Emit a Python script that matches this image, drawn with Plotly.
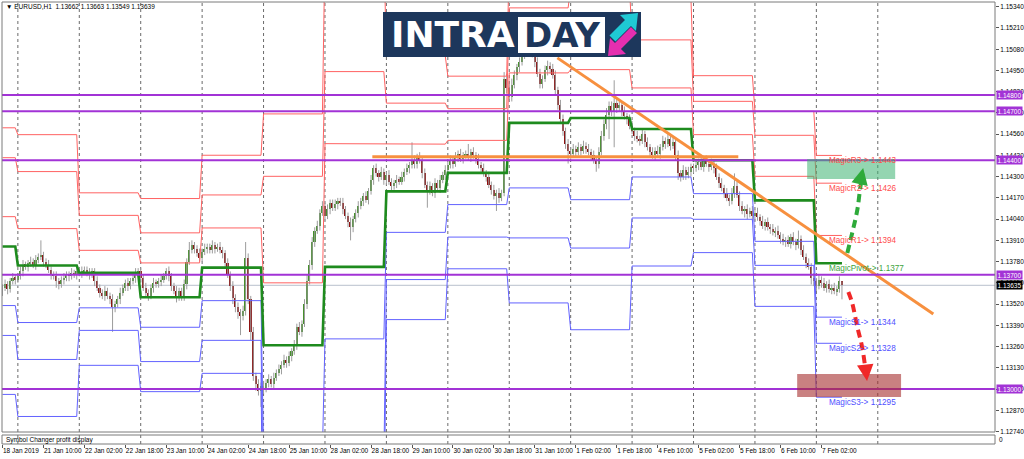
import plotly.graph_objects as go

# ---------------- canvas geometry ----------------
W, H = 1024, 459
ML, MR, MT, MB = 2, 29, 2, 15
PW, PH = W - ML - MR, H - MT - MB          # 993 x 442
MAIN_BOTTOM_PX, SUB_TOP_PX = 432, 435


def px(x):
    return (x - ML) / PW


def py(y):
    return (H - MB - y) / PH


# ---------------- data ----------------
PIP = 0.0001
FIRST_OPEN = 1.1360

# hourly closes, 18 Jan 18:00 ... 7 Feb 10:00
CLOSE = [
    1.1362, 1.1364, 1.1361, 1.1366, 1.1368, 1.1367,
    1.1369, 1.1372, 1.1376, 1.1375, 1.1377, 1.1378, 1.1376, 1.1379, 1.1381, 1.1382, 1.1378, 1.1376,
    1.1373, 1.1370, 1.1369, 1.1366, 1.1364, 1.1367, 1.1368, 1.1370, 1.1369, 1.1371, 1.1370, 1.1372,
    1.1371, 1.1372, 1.1373, 1.1371, 1.1370, 1.1372, 1.1366, 1.1362, 1.1359, 1.1357, 1.1360, 1.1357,
    1.1355, 1.1350, 1.1352, 1.1355, 1.1359, 1.1362, 1.1365, 1.1363, 1.1366, 1.1368, 1.1371, 1.1372,
    1.1368, 1.1362, 1.1359, 1.1357, 1.1362, 1.1365, 1.1364, 1.1366, 1.1367, 1.1369, 1.1372, 1.1369,
    1.1363, 1.1360, 1.1357, 1.1360, 1.1356, 1.1364, 1.1378, 1.1385, 1.1388, 1.1386, 1.1383, 1.1380,
    1.1384, 1.1386, 1.1387, 1.1385, 1.1388, 1.1386, 1.1387, 1.1385, 1.1383, 1.1377, 1.1370, 1.1363,
    1.1356, 1.1350, 1.1347, 1.1345, 1.1348, 1.1380, 1.1355, 1.1335, 1.1308, 1.1303, 1.1299, 1.1302,
    1.1300, 1.1304, 1.1306, 1.1303, 1.1307, 1.1310, 1.1312, 1.1315, 1.1318, 1.1316, 1.1320, 1.1323,
    1.1327, 1.1338, 1.1335, 1.1340, 1.1352, 1.1366, 1.1376, 1.1390, 1.1397, 1.1400, 1.1408, 1.1412,
    1.1406, 1.1410, 1.1414, 1.1411, 1.1413, 1.1415, 1.1414, 1.1410, 1.1406, 1.1402, 1.1399, 1.1404,
    1.1408, 1.1412, 1.1415, 1.1418, 1.1416, 1.1421, 1.1428, 1.1435, 1.1432, 1.1430, 1.1433, 1.1428,
    1.1431, 1.1427, 1.1424, 1.1426, 1.1428, 1.1427, 1.1430, 1.1433, 1.1435, 1.1437, 1.1440, 1.1438,
    1.1442, 1.1440, 1.1432, 1.1425, 1.1422, 1.1424, 1.1420, 1.1426, 1.1423, 1.1428, 1.1431, 1.1434,
    1.1437, 1.1440, 1.1438, 1.1442, 1.1444, 1.1441, 1.1443, 1.1444, 1.1442, 1.1445, 1.1443, 1.1441,
    1.1437, 1.1435, 1.1432, 1.1430, 1.1425, 1.1422, 1.1418, 1.1420, 1.1417, 1.1420, 1.1490, 1.1484,
    1.1479, 1.1486, 1.1492, 1.1497, 1.1500, 1.1505, 1.1509, 1.1512, 1.1508, 1.1506, 1.1500, 1.1493,
    1.1487, 1.1490, 1.1495, 1.1498, 1.1496, 1.1492, 1.1483, 1.1474, 1.1465, 1.1458, 1.1450, 1.1446,
    1.1444, 1.1447, 1.1445, 1.1448, 1.1446, 1.1449, 1.1447, 1.1445, 1.1443, 1.1440, 1.1438, 1.1445,
    1.1455, 1.1462, 1.1468, 1.1473, 1.1470, 1.1475, 1.1472, 1.1474, 1.1470, 1.1467, 1.1465, 1.1461,
    1.1458, 1.1455, 1.1453, 1.1452, 1.1456, 1.1451, 1.1448, 1.1445, 1.1443, 1.1446, 1.1444, 1.1448,
    1.1452, 1.1450, 1.1453, 1.1449, 1.1451, 1.1443, 1.1432, 1.1430, 1.1434, 1.1431, 1.1433, 1.1436,
    1.1435, 1.1437, 1.1439, 1.1436, 1.1440, 1.1438, 1.1436, 1.1438, 1.1435, 1.1430, 1.1426, 1.1423,
    1.1420, 1.1417, 1.1415, 1.1420, 1.1424, 1.1419, 1.1412, 1.1409, 1.1410, 1.1407, 1.1409, 1.1406,
    1.1408, 1.1405, 1.1403, 1.1400, 1.1402, 1.1399, 1.1398, 1.1396, 1.1397, 1.1394, 1.1392, 1.1390,
    1.1391, 1.1389, 1.1393, 1.1390, 1.1388, 1.1392, 1.1385, 1.1381, 1.1377, 1.1375, 1.1368, 1.1366,
    1.1363, 1.1367, 1.1365, 1.1362, 1.1364, 1.1361, 1.1362, 1.1360, 1.1361, 1.1366, 1.13639,
]

# upper / lower wick lengths in pips
UP_WICK = [
    2, 3, 2, 2, 3, 2,
    2, 3, 3, 2, 2, 3, 2, 3, 2, 9, 2, 2, 3, 2, 2, 3, 2, 2, 3, 2, 2, 3, 2, 2,
    2, 3, 2, 2, 3, 2, 2, 3, 2, 2, 3, 2, 2, 3, 2, 2, 3, 2, 2, 3, 2, 2, 3, 2,
    2, 2, 3, 2, 2, 3, 2, 2, 3, 2, 2, 3, 2, 2, 3, 2, 2, 3, 2, 5, 3, 2, 2, 3,
    2, 3, 2, 2, 3, 2, 2, 3, 2, 2, 3, 2, 3, 2, 3, 2, 3, 10, 3, 2, 3, 2, 3, 2,
    3, 2, 3, 2, 3, 2, 3, 2, 3, 2, 3, 2, 3, 2, 3, 2, 3, 4, 3, 3, 2, 3, 2, 3,
    2, 3, 2, 2, 3, 2, 2, 3, 2, 2, 3, 2, 2, 3, 2, 2, 3, 2, 3, 2, 3, 2, 3, 2,
    2, 3, 2, 2, 3, 2, 3, 2, 3, 2, 11, 3, 2, 3, 2, 3, 2, 3, 2, 3, 2, 3, 2, 3,
    2, 3, 2, 3, 2, 3, 2, 2, 6, 2, 3, 2, 3, 2, 3, 2, 3, 2, 3, 2, 3, 2, 4, 3,
    3, 4, 3, 2, 3, 3, 2, 4, 3, 3, 2, 3, 3, 2, 3, 3, 2, 3, 3, 2, 3, 3, 2, 3,
    2, 3, 2, 3, 2, 3, 2, 3, 2, 3, 2, 3, 3, 3, 4, 3, 3, 14, 3, 3, 2, 3, 2, 3,
    3, 2, 3, 2, 3, 2, 3, 2, 3, 2, 3, 2, 3, 2, 3, 2, 3, 2, 3, 2, 3, 2, 3, 2,
    2, 3, 2, 3, 2, 3, 2, 3, 2, 3, 2, 3, 2, 3, 2, 3, 8, 3, 2, 3, 2, 3, 2, 3,
    2, 3, 2, 3, 2, 3, 2, 3, 2, 3, 2, 3, 2, 3, 2, 3, 2, 5, 2, 3, 2, 3, 2, 3,
    2, 3, 2, 3, 2, 3, 2, 3, 2, 3, 0,
]
DN_WICK = [
    3, 2, 3, 2, 2, 3,
    2, 2, 3, 2, 3, 2, 2, 3, 2, 2, 3, 2, 2, 3, 2, 4, 3, 2, 3, 2, 3, 2, 2, 3,
    2, 3, 2, 2, 3, 2, 3, 2, 3, 2, 3, 2, 3, 15, 3, 2, 3, 2, 2, 3, 2, 2, 3, 2,
    3, 2, 2, 3, 2, 3, 2, 2, 3, 2, 2, 3, 3, 2, 4, 3, 2, 2, 3, 2, 2, 3, 2, 2,
    2, 2, 3, 2, 2, 3, 2, 2, 3, 3, 2, 3, 4, 3, 4, 12, 3, 3, 3, 5, 3, 4, 3, 10,
    3, 2, 3, 2, 3, 2, 2, 3, 2, 3, 2, 3, 2, 3, 2, 3, 2, 3, 2, 3, 3, 2, 3, 2,
    3, 2, 3, 2, 2, 3, 2, 3, 2, 3, 8, 3, 2, 3, 2, 3, 2, 3, 2, 3, 2, 3, 2, 3,
    3, 2, 3, 2, 3, 2, 2, 3, 2, 3, 2, 3, 3, 2, 3, 2, 11, 3, 2, 3, 2, 3, 2, 3,
    3, 2, 3, 2, 3, 2, 3, 2, 2, 3, 2, 3, 2, 3, 2, 3, 2, 3, 2, 9, 3, 2, 2, 3,
    3, 3, 2, 3, 3, 2, 3, 3, 2, 3, 3, 2, 3, 3, 2, 3, 3, 2, 3, 3, 2, 3, 3, 8,
    3, 2, 3, 2, 3, 2, 3, 2, 3, 2, 5, 3, 2, 3, 3, 15, 3, 22, 3, 2, 3, 2, 3, 2,
    2, 3, 2, 3, 2, 3, 2, 3, 2, 3, 2, 3, 2, 3, 2, 3, 2, 3, 4, 3, 2, 3, 2, 3,
    3, 2, 3, 2, 3, 2, 3, 2, 3, 2, 3, 2, 3, 2, 3, 2, 3, 2, 3, 2, 4, 3, 2, 3,
    3, 2, 3, 2, 3, 2, 3, 2, 3, 2, 3, 2, 3, 2, 3, 2, 3, 2, 3, 2, 3, 2, 4, 3,
    3, 2, 3, 2, 3, 2, 3, 2, 3, 2, 9,
]

# daily "Magic" pivot levels (first bar index of each day)
DAY_START = [0, 6, 30, 54, 78, 102, 126, 150, 174, 198, 222, 246, 270, 294, 318]
PIV_R3 = [1.14599, 1.14557, 1.14201, 1.14166, 1.14431, 1.14684, 1.15697, 1.15039, 1.14915, 1.15639, 1.15751, 1.15388, 1.14918, 1.14700, 1.1443]
PIV_R2 = [1.14416, 1.14331, 1.14063, 1.13956, 1.14188, 1.14302, 1.14943, 1.14750, 1.14716, 1.15333, 1.15455, 1.15137, 1.14761, 1.14553, 1.1426]
PIV_R1 = [1.14055, 1.13982, 1.13849, 1.13772, 1.13986, 1.13650, 1.14502, 1.14499, 1.14522, 1.14935, 1.14955, 1.14843, 1.14557, 1.14302, 1.1394]
PIV_P = [1.13872, 1.13756, 1.13711, 1.13562, 1.13743, 1.13268, 1.13748, 1.14210, 1.14323, 1.14629, 1.14659, 1.14592, 1.14400, 1.14155, 1.1377]
PIV_S1 = [1.13511, 1.13407, 1.13497, 1.13378, 1.13541, 1.12616, 1.13307, 1.13959, 1.14129, 1.14231, 1.14159, 1.14298, 1.14196, 1.13904, 1.1344]
PIV_S2 = [1.13328, 1.13181, 1.13359, 1.13168, 1.13298, 1.12234, 1.12553, 1.13670, 1.13930, 1.13925, 1.13863, 1.14047, 1.14039, 1.13757, 1.1328]
PIV_S3 = [1.12967, 1.12832, 1.13145, 1.12984, 1.13096, 1.11582, 1.12112, 1.13425, 1.13736, 1.13527, 1.13363, 1.13753, 1.13835, 1.13506, 1.1295]
PIV_NAMES = ["MagicR3", "MagicR2", "MagicR1", "MagicPivot", "MagicS1", "MagicS2", "MagicS3"]

SEPARATORS = [6, 30, 54, 78, 102, 126, 150, 174, 198, 222, 246, 270, 294, 318, 342]

TIME_LABELS = ["18 Jan 2019", "21 Jan 10:00", "22 Jan 02:00", "22 Jan 18:00", "23 Jan 10:00",
               "24 Jan 02:00", "24 Jan 18:00", "25 Jan 10:00", "28 Jan 02:00", "28 Jan 18:00",
               "29 Jan 10:00", "30 Jan 02:00", "30 Jan 18:00", "31 Jan 10:00", "1 Feb 02:00",
               "1 Feb 18:00", "4 Feb 10:00", "5 Feb 02:00", "5 Feb 18:00", "6 Feb 10:00",
               "7 Feb 02:00"]
BARS_PER_LABEL = 16

Y_TICKS = [1.12740, 1.12870, 1.13000, 1.13130, 1.13260, 1.13390, 1.13520, 1.13650, 1.13780,
           1.13910, 1.14040, 1.14170, 1.14300, 1.14430, 1.14560, 1.14690, 1.14820, 1.14950,
           1.15080, 1.15210, 1.15340]
Y_RANGE = [1.12737, 1.15369]
X_RANGE = [-0.2, 387.8]

H_LEVELS = [1.14800, 1.14700, 1.14400, 1.13700, 1.13000]
BID = 1.13635
OHLC_TITLE = "\u25BC EURUSD,H1  1.13662 1.13663 1.13549 1.13639"

TREND_DIAG_X = [216.8, 363.7]
TREND_DIAG_Y = [1.15027, 1.13459]
TREND_FLAT_X = [144.5, 287.5]
TREND_FLAT_Y = [1.14422, 1.14422]

UP_ZONE_X = [314.4, 348.8]
UP_ZONE_Y = [1.14286, 1.14408]
DN_ZONE_X = [310.5, 351.1]
DN_ZONE_Y = [1.12951, 1.13092]

UP_PATH_X = [330.1, 332.0, 334.0, 335.2, 336.1]
UP_PATH_Y = [1.13833, 1.13955, 1.14096, 1.14237, 1.14320]
DN_PATH_X = [330.5, 332.0, 334.0, 335.9, 337.1, 337.8]
DN_PATH_Y = [1.13594, 1.13527, 1.13380, 1.13257, 1.13135, 1.13080]
UP_TIP = (336.3, 1.14353)
DN_TIP = (337.8, 1.13049)

# ---------------- colours ----------------
C_BULL, C_BEAR, C_WICK = "#46902C", "#8E1111", "#9C9C9C"
C_RES, C_PIV, C_SUP = "#FF6262", "#1E8B1E", "#6262FF"
C_PURPLE = "#A233D6"
C_ORANGE = "#F7903F"
C_NAVY = "#1D375C"
FONT = "Liberation Sans, Arial, sans-serif"

# ---------------- build ----------------
n = min(len(CLOSE), len(UP_WICK), len(DN_WICK))
idx = list(range(n))
opens = [FIRST_OPEN] + CLOSE[:n - 1]
closes = CLOSE[:n]
highs = [max(o, c) + u * PIP for o, c, u in zip(opens, closes, UP_WICK)]
lows = [min(o, c) - d * PIP for o, c, d in zip(opens, closes, DN_WICK)]

fig = go.Figure()

# wicks
wx, wy = [], []
for i, lo, hi in zip(idx, lows, highs):
    wx += [i, i, None]
    wy += [lo, hi, None]
fig.add_trace(go.Scatter(x=wx, y=wy, mode="lines", line=dict(color=C_WICK, width=1),
                         hoverinfo="skip"))
# bodies
body = [(c - o) if abs(c - o) > 0.000015 else 0.000015 for o, c in zip(opens, closes)]
bcol = [C_BULL if c >= o else C_BEAR for o, c in zip(opens, closes)]
fig.add_trace(go.Bar(x=idx, y=body, base=opens, width=0.62,
                     marker=dict(color=bcol, line=dict(width=0)), hoverinfo="skip"))


def per_bar(levels):
    out = []
    for i in idx:
        d = 0
        for k, s in enumerate(DAY_START):
            if i >= s:
                d = k
        out.append(levels[d])
    return out


for lv, col, wd in [(PIV_R3, C_RES, 1), (PIV_R2, C_RES, 1), (PIV_R1, C_RES, 1),
                    (PIV_S1, C_SUP, 1), (PIV_S2, C_SUP, 1), (PIV_S3, C_SUP, 1),
                    (PIV_P, C_PIV, 2.6)]:
    fig.add_trace(go.Scatter(x=idx, y=per_bar(lv), mode="lines",
                             line=dict(color=col, width=wd), hoverinfo="skip"))

# trend lines
fig.add_trace(go.Scatter(x=TREND_FLAT_X, y=TREND_FLAT_Y, mode="lines",
                         line=dict(color=C_ORANGE, width=3), hoverinfo="skip"))
fig.add_trace(go.Scatter(x=TREND_DIAG_X, y=TREND_DIAG_Y, mode="lines",
                         line=dict(color=C_ORANGE, width=3), hoverinfo="skip"))

# dashed forecast arrows
fig.add_trace(go.Scatter(x=UP_PATH_X, y=UP_PATH_Y, mode="lines",
                         line=dict(color="#2EAA3A", width=4, dash="8px,5px", shape="spline"),
                         hoverinfo="skip"))
fig.add_trace(go.Scatter(x=DN_PATH_X, y=DN_PATH_Y, mode="lines",
                         line=dict(color="#F02828", width=4, dash="8px,5px", shape="spline"),
                         hoverinfo="skip"))

# dummy trace for the sub-window axis
fig.add_trace(go.Scatter(x=[0], y=[0.5], xaxis="x", yaxis="y2", mode="markers",
                         marker=dict(opacity=0), hoverinfo="skip"))

shapes = []
for s in SEPARATORS:
    shapes.append(dict(type="line", xref="x", yref="paper", x0=s, x1=s, y0=0, y1=1,
                       line=dict(color="#6A6A6A", width=1, dash="dot"), layer="below"))
shapes.append(dict(type="line", xref="paper", yref="y", x0=0, x1=1, y0=BID, y1=BID,
                   line=dict(color="#B8C0CC", width=1), layer="below"))
for lv in H_LEVELS:
    shapes.append(dict(type="line", xref="paper", yref="y", x0=0, x1=1, y0=lv, y1=lv,
                       line=dict(color=C_PURPLE, width=2), layer="above"))
shapes.append(dict(type="rect", xref="x", yref="y", x0=UP_ZONE_X[0], x1=UP_ZONE_X[1],
                   y0=UP_ZONE_Y[0], y1=UP_ZONE_Y[1], fillcolor="rgba(60,179,113,0.55)",
                   line=dict(width=0), layer="above"))
shapes.append(dict(type="rect", xref="x", yref="y", x0=DN_ZONE_X[0], x1=DN_ZONE_X[1],
                   y0=DN_ZONE_Y[0], y1=DN_ZONE_Y[1], fillcolor="rgba(165,45,45,0.6)",
                   line=dict(width=0), layer="above"))
main_d0 = py(MAIN_BOTTOM_PX)
sub_d1 = py(SUB_TOP_PX)
shapes.append(dict(type="rect", xref="paper", yref="paper", x0=0, x1=1, y0=main_d0, y1=1,
                   line=dict(color="#7A7A7A", width=1), layer="above"))
shapes.append(dict(type="rect", xref="paper", yref="paper", x0=0, x1=1, y0=0, y1=sub_d1,
                   line=dict(color="#7A7A7A", width=1), layer="above"))

# logo
shapes.append(dict(type="rect", xref="paper", yref="paper", x0=px(383), x1=px(641),
                   y0=py(57), y1=py(12), fillcolor=C_NAVY, line=dict(width=0), layer="above"))
shapes.append(dict(type="rect", xref="paper", yref="paper", x0=px(518), x1=px(605),
                   y0=py(53), y1=py(17), fillcolor="white", line=dict(width=0), layer="above"))


def poly(points):
    return "M " + " L ".join(f"{px(a):.5f},{py(b):.5f}" for a, b in points) + " Z"


shapes.append(dict(type="path", xref="paper", yref="paper", layer="above",
                   path=poly([(638, 13), (636, 31), (631, 26), (615.5, 41.5),
                              (609.5, 35.5), (625, 20), (620, 15)]),
                   fillcolor="#1FC9D4", line=dict(width=0)))
shapes.append(dict(type="path", xref="paper", yref="paper", layer="above",
                   path=poly([(608, 56), (610, 38), (615, 43), (631, 27),
                              (637, 33), (621, 49), (626, 54)]),
                   fillcolor="#E52FAF", line=dict(width=0)))

ann = []
ann.append(dict(text="INTRA", xref="paper", yref="paper", x=px(389), y=py(35),
                xanchor="left", yanchor="middle", showarrow=False,
                font=dict(family="DejaVu Sans", size=36, color="white", weight="bold")))
ann.append(dict(text="DAY", xref="paper", yref="paper", x=px(561.5), y=py(35),
                xanchor="center", yanchor="middle", showarrow=False,
                font=dict(family="DejaVu Sans", size=34, color=C_NAVY, weight="bold")))

for lv in H_LEVELS:
    ann.append(dict(text=f"{lv:.5f}", xref="paper", yref="y", x=1, y=lv, xanchor="left",
                    yanchor="middle", xshift=1, showarrow=False, bgcolor=C_PURPLE, borderpad=0.5,
                    font=dict(family=FONT, size=6.5, color="white")))
ann.append(dict(text=f"{BID:.5f}", xref="paper", yref="y", x=1, y=BID, xanchor="left",
                yanchor="middle", xshift=1, showarrow=False, bgcolor="black", borderpad=0.5,
                font=dict(family=FONT, size=6.5, color="white")))

last = [PIV_R3[-1], PIV_R2[-1], PIV_R1[-1], PIV_P[-1], PIV_S1[-1], PIV_S2[-1], PIV_S3[-1]]
lcol = ["#FF4D4D"] * 3 + ["#3DA33D"] + ["#4F4FFF"] * 3
for name, v, c in zip(PIV_NAMES, last, lcol):
    ann.append(dict(text=f"{name}-> {v:.4f}", xref="x", yref="y", x=322.3, y=v,
                    xanchor="left", yanchor="middle", yshift=-5, showarrow=False,
                    font=dict(family=FONT, size=8.2, color=c)))

ann.append(dict(text="", x=UP_TIP[0], y=UP_TIP[1], xref="x", yref="y", showarrow=True,
                arrowhead=2, arrowsize=1.1, arrowwidth=3, arrowcolor="#2EAA3A", ax=-2, ay=9))
ann.append(dict(text="", x=DN_TIP[0], y=DN_TIP[1], xref="x", yref="y", showarrow=True,
                arrowhead=2, arrowsize=1.1, arrowwidth=3, arrowcolor="#F02828", ax=-1, ay=-9))

ann.append(dict(text=OHLC_TITLE, xref="paper", yref="paper", x=px(4), y=py(7),
                xanchor="left", yanchor="middle", showarrow=False,
                font=dict(family=FONT, size=6.5, color="black")))
ann.append(dict(text="Symbol Changer profit display", xref="paper", yref="paper", x=px(4),
                y=py(439.5), xanchor="left", yanchor="middle", showarrow=False,
                font=dict(family=FONT, size=6.5, color="black")))
ann.append(dict(text="0", xref="paper", yref="paper", x=1, y=py(439), xanchor="left",
                yanchor="middle", xshift=2, showarrow=False,
                font=dict(family=FONT, size=6.5, color="black")))

fig.update_layout(
    width=W, height=H,
    margin=dict(l=ML, r=MR, t=MT, b=MB, pad=0, autoexpand=False),
    paper_bgcolor="white", plot_bgcolor="white",
    showlegend=False, hovermode=False, bargap=0,
    font=dict(family=FONT, size=7, color="black"),
    shapes=shapes, annotations=ann,
    xaxis=dict(domain=[0, 1], range=X_RANGE, anchor="y2", tickmode="array",
               tickvals=[k * BARS_PER_LABEL for k in range(len(TIME_LABELS))],
               ticktext=TIME_LABELS, ticks="outside", ticklen=3, tickwidth=1,
               tickcolor="#555555", ticklabelposition="outside right", tickangle=0,
               automargin=False,
               tickfont=dict(family=FONT, size=6.5, color="black"),
               showgrid=False, zeroline=False, showline=False, fixedrange=True),
    yaxis=dict(domain=[main_d0, 1], range=Y_RANGE, side="right", anchor="x",
               tickmode="array", tickvals=Y_TICKS, ticktext=[f"{v:.5f}" for v in Y_TICKS],
               ticks="outside", ticklen=3, tickwidth=1, tickcolor="#555555", automargin=False,
               tickfont=dict(family=FONT, size=6.5, color="black"),
               showgrid=False, zeroline=False, showline=False, fixedrange=True),
    yaxis2=dict(domain=[0, sub_d1], range=[0, 1], anchor="x", showticklabels=False,
                ticks="", showgrid=False, zeroline=False, showline=False, fixedrange=True,
                automargin=False),
)

fig.write_html("out.html", config={"displayModeBar": False},
               post_script="document.body.style.margin='0';document.body.style.overflow='hidden';")
